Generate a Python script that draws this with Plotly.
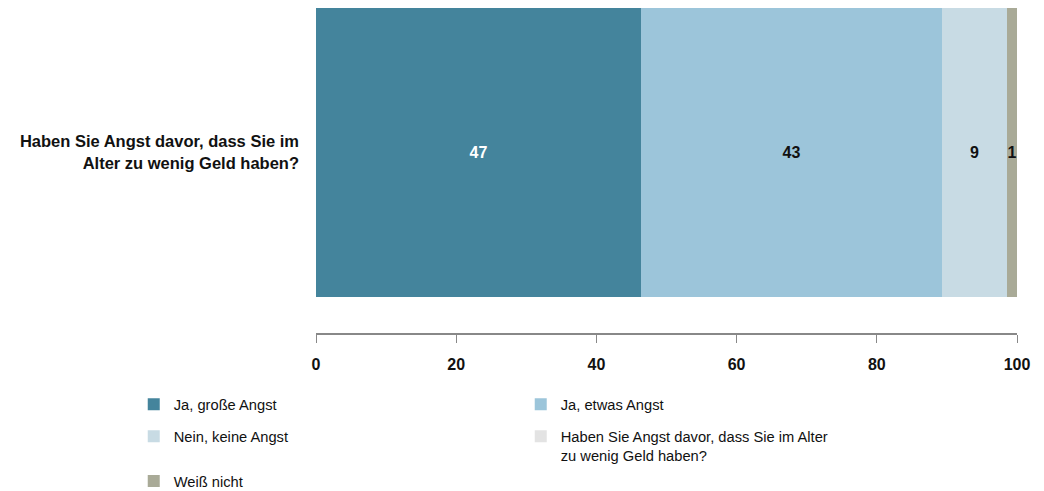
import plotly.graph_objects as go

question = "Haben Sie Angst davor, dass Sie im<br>Alter zu wenig Geld haben?"
categories = ["Ja, große Angst", "Ja, etwas Angst", "Nein, keine Angst",
              "Haben Sie Angst davor, dass Sie im Alter<br>zu wenig Geld haben?", "Weiß nicht"]
values = [46.4, 42.9, 9.3, None, 1.4]
labels = ["47", "43", "9", "", "1"]
colors = ["#44849c", "#9cc5da", "#c8dbe4", "#e3e3e3", "#a9aa97"]
text_colors = ["white", "#111111", "#111111", "#111111", "#111111"]
legend_rows = ["legend", "legend", "legend2", "legend2", "legend3"]
x_ticks = [0, 20, 40, 60, 80, 100]

FONT = "Liberation Sans"

fig = go.Figure()
for cat, v, lab, c, tc, lg in zip(categories, values, labels, colors, text_colors, legend_rows):
    fig.add_trace(go.Bar(
        y=[question], x=[v if v is not None else 0], name=cat, orientation="h",
        marker=dict(color=c, line=dict(width=0)),
        text=[lab] if lab else None, textposition="inside", insidetextanchor="middle",
        textfont=dict(color=tc, size=16, family=FONT, weight="bold"),
        constraintext="none", showlegend=True, legend=lg, hoverinfo="x+name",
    ))

legend_common = dict(orientation="h", xanchor="left", yanchor="top",
                     entrywidth=342, entrywidthmode="pixels", traceorder="normal",
                     font=dict(size=14.7, family=FONT, color="#111111"),
                     itemwidth=30, valign="top", bgcolor="rgba(0,0,0,0)")

fig.update_layout(
    barmode="stack", bargap=0,
    width=1036, height=483,
    margin=dict(l=308, r=27, t=0, b=158, autoexpand=False),
    plot_bgcolor="white", paper_bgcolor="white",
    font=dict(family=FONT, color="#111111"),
    uniformtext=dict(minsize=8, mode="show"),
    xaxis=dict(range=[0, 100], tickvals=x_ticks, showgrid=False, zeroline=False,
               showline=True, linecolor="#888888", linewidth=1.5,
               ticks="outside", tickcolor="#888888", ticklen=8, tickwidth=1,
               tickfont=dict(size=16, family=FONT, weight="bold", color="#111111"),
               ticklabelstandoff=8),
    yaxis=dict(range=[-0.625, 0.5], showgrid=False, zeroline=False, showline=False,
               ticks="", tickfont=dict(size=16.5, family=FONT, weight="bold", color="#111111"),
               ticklabelstandoff=16),
    legend=dict(x=-0.26, y=-0.17, **legend_common),
    legend2=dict(x=-0.26, y=-0.268, **legend_common),
    legend3=dict(x=-0.26, y=-0.406, **legend_common),
)

fig.write_html("out.html")
